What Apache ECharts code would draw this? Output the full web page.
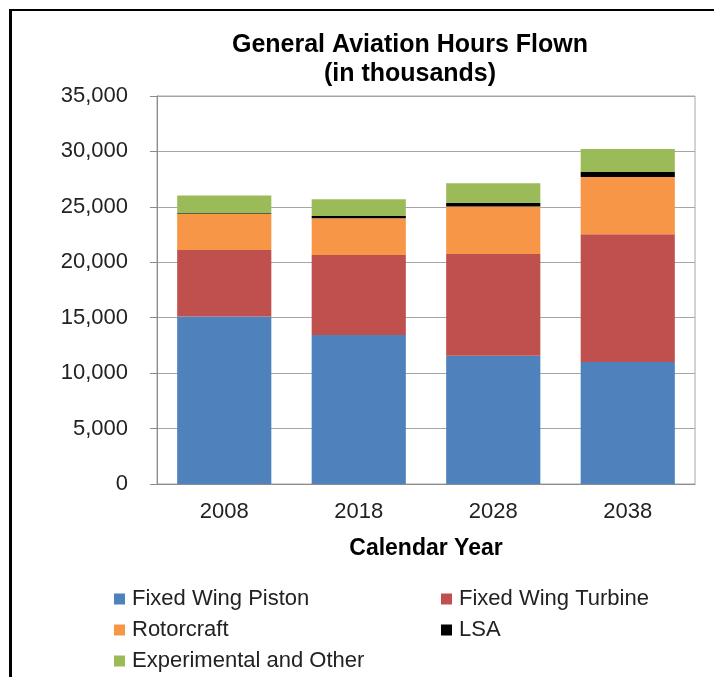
<!DOCTYPE html>
<html>
<head>
<meta charset="utf-8">
<script src="https://cdn.jsdelivr.net/npm/echarts@6/dist/echarts.min.js"></script>
<style>
html,body{margin:0;padding:0;background:#fff;}
#main{width:714px;height:677px;}
</style>
</head>
<body>
<div id="main"></div>
<script>
const categories = ['2008', '2018', '2028', '2038'];
const fixedWingPiston = [15100, 13430, 11560, 11010];
const fixedWingTurbine = [6000, 7230, 9190, 11520];
const rotorcraft = [3250, 3320, 4280, 5160];
const lsa = [80, 200, 350, 450];
const experimental = [1600, 1500, 1750, 2080];
const seriesNames = ['Fixed Wing Piston', 'Fixed Wing Turbine', 'Rotorcraft', 'LSA', 'Experimental and Other'];
const seriesColors = ['#4F81BD', '#C0504D', '#F79646', '#000000', '#9BBB59'];
const seriesData = [fixedWingPiston, fixedWingTurbine, rotorcraft, lsa, experimental];

const font = 'Liberation Sans, Arial, sans-serif';
const chart = echarts.init(document.getElementById('main'));
chart.setOption({
  animation: false,
  backgroundColor: '#fff',
  textStyle: { fontFamily: font },
  title: {
    text: 'General Aviation Hours Flown\n(in thousands)',
    left: 405,
    top: 26,
    textAlign: 'center',
    textStyle: { fontFamily: font, fontSize: 25, fontWeight: 'bold', color: '#000', lineHeight: 29 }
  },
  grid: {
    left: 157, right: 19, top: 96, bottom: 193,
    show: true, borderColor: '#a6a6a6', borderWidth: 1
  },
  legend: [
    {
      data: ['Fixed Wing Piston', 'Rotorcraft', 'Experimental and Other'],
      orient: 'vertical', left: 114, top: 588, itemGap: 9, padding: 0, height: 89,
      itemWidth: 11, itemHeight: 11, icon: 'rect',
      textStyle: { fontFamily: font, fontSize: 22, color: '#222', padding: [0, 0, 0, 2] }
    },
    {
      data: ['Fixed Wing Turbine', 'LSA'],
      orient: 'vertical', left: 441, top: 588, itemGap: 9, padding: 0, height: 89,
      itemWidth: 11, itemHeight: 11, icon: 'rect',
      textStyle: { fontFamily: font, fontSize: 22, color: '#222', padding: [0, 0, 0, 2] }
    }
  ],
  xAxis: {
    type: 'category',
    data: categories,
    name: 'Calendar Year',
    nameLocation: 'middle',
    nameGap: 53,
    nameTextStyle: { fontFamily: font, fontSize: 23, fontWeight: 'bold', color: '#000' },
    axisLine: { lineStyle: { color: '#8c8c8c', width: 1 } },
    axisTick: { show: false },
    axisLabel: { fontFamily: font, fontSize: 22, color: '#222', margin: 17 }
  },
  yAxis: {
    type: 'value',
    min: 0, max: 35000, interval: 5000,
    axisLine: { show: true, lineStyle: { color: '#8c8c8c', width: 1 } },
    axisTick: { show: true, length: 7, lineStyle: { color: '#8c8c8c' } },
    splitLine: { lineStyle: { color: '#a6a6a6', width: 1 } },
    axisLabel: {
      fontFamily: font, fontSize: 22, color: '#222', margin: 29,
      formatter: v => v.toLocaleString('en-US')
    }
  },
  series: seriesNames.map((name, i) => ({
    name: name,
    type: 'bar',
    stack: 'total',
    barWidth: '70%',
    itemStyle: { color: seriesColors[i] },
    data: seriesData[i]
  })),
  graphic: [
    { type: 'line', shape: { x1: 10.5, y1: 9, x2: 10.5, y2: 677 }, style: { stroke: '#000', lineWidth: 3 } },
    { type: 'line', shape: { x1: 9, y1: 10, x2: 714, y2: 10 }, style: { stroke: '#000', lineWidth: 2 } }
  ]
});
</script>
</body>
</html>
